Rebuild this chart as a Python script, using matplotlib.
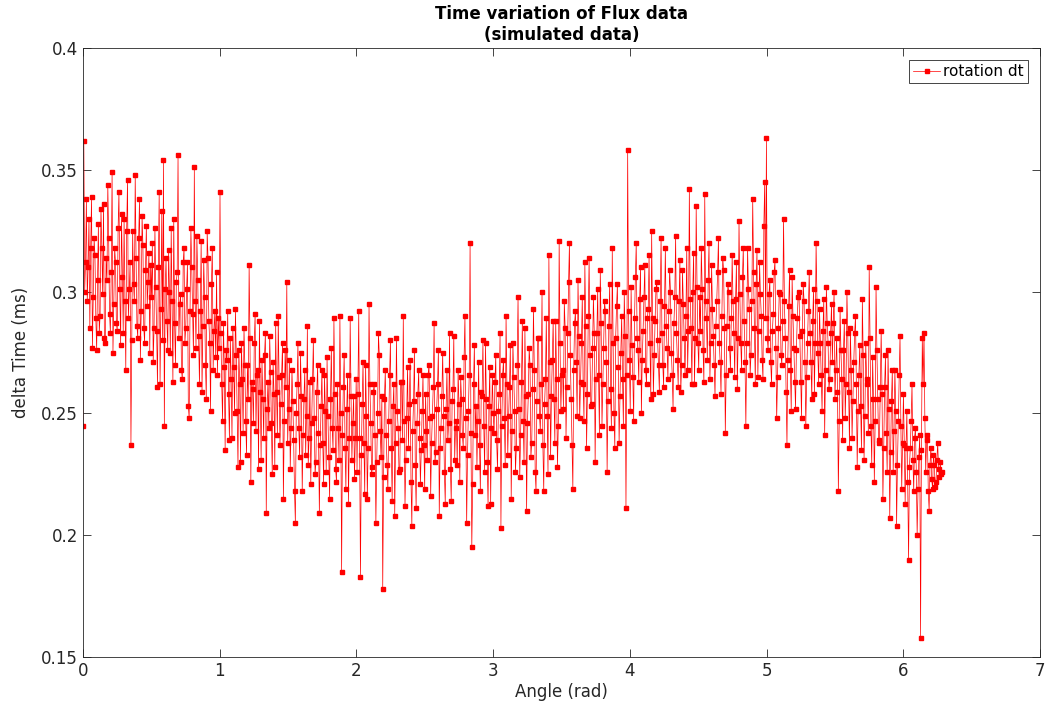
import numpy as np
import matplotlib
matplotlib.use('Agg')
import matplotlib.pyplot as plt

# delta time (ms * 1000) read segment by segment, 0 -> 2*pi
dt_0_05 = [245, 362, 300, 312, 338, 296, 310, 330, 285, 318, 339, 277, 298, 322, 315, 289, 276, 305, 328, 283,
           290, 334, 318, 299, 336, 281, 279, 314, 305, 344, 322, 291, 283, 308, 349, 275, 295, 318, 312, 287,
           284, 326, 341, 301, 278, 332, 306, 283, 330, 296, 268, 325, 346, 289, 301, 312, 237, 280, 325, 303,
           296, 348, 314, 286, 281, 322, 338, 272, 292, 331, 319, 285, 279, 309, 327, 294, 304, 316, 275, 311]
dt_05_10 = [298, 320, 271, 285, 326, 302, 284, 261, 310, 341, 262, 293, 333, 280, 354, 245, 301, 314, 288, 276,
            317, 300, 275, 326, 296, 263, 330, 287, 270, 304, 308, 356, 281, 295, 299, 268, 264, 312, 318, 279,
            285, 301, 312, 253, 248, 292, 326, 310, 291, 274, 351, 296, 277, 323, 305, 282, 262, 292, 321, 259,
            286, 313, 298, 270, 256, 325, 314, 288, 279, 251, 303, 318, 268, 284, 292, 273, 308, 266, 289, 277]
dt_10_15 = [341, 283, 262, 247, 287, 269, 235, 276, 272, 292, 258, 239, 281, 264, 240, 285, 269, 250, 293, 274,
            251, 228, 276, 262, 230, 279, 264, 242, 285, 270, 247, 233, 270, 256, 311, 281, 222, 263, 260, 246,
            279, 291, 243, 266, 268, 227, 288, 259, 231, 272, 256, 240, 274, 283, 209, 252, 263, 244, 282, 267,
            246, 225, 271, 258, 228, 287, 259, 241, 290, 265, 237, 254, 266, 279, 215, 247, 276, 261, 304, 238]
dt_15_20 = [252, 272, 227, 244, 268, 255, 239, 218, 205, 250, 262, 279, 244, 232, 275, 257, 218, 241, 256, 268,
            233, 249, 286, 229, 240, 263, 221, 246, 264, 280, 248, 225, 230, 259, 270, 242, 209, 237, 253, 268,
            238, 221, 266, 251, 226, 273, 249, 232, 215, 256, 277, 244, 235, 289, 258, 227, 222, 262, 244, 231,
            290, 250, 185, 241, 261, 274, 236, 219, 252, 266, 213, 240, 289, 257, 231, 246, 257, 223, 240, 264]
dt_20_25 = [226, 258, 292, 240, 183, 233, 254, 271, 238, 217, 270, 249, 215, 236, 295, 262, 246, 225, 228, 259,
            262, 241, 205, 230, 250, 283, 274, 243, 232, 257, 178, 224, 256, 268, 241, 229, 219, 247, 266, 280,
            236, 214, 253, 262, 208, 238, 281, 251, 244, 226, 227, 263, 263, 239, 290, 247, 212, 231, 248, 269,
            236, 254, 272, 222, 204, 243, 255, 276, 229, 211, 246, 258, 268, 240, 221, 235, 251, 266, 237, 219]
dt_25_30 = [258, 243, 231, 266, 270, 248, 216, 238, 249, 261, 287, 230, 234, 252, 262, 276, 208, 236, 244, 257,
            275, 249, 226, 213, 252, 268, 239, 246, 283, 227, 214, 255, 260, 282, 231, 244, 247, 229, 268, 254,
            222, 265, 256, 241, 236, 273, 290, 248, 205, 233, 251, 266, 320, 242, 195, 221, 262, 278, 241, 253,
            228, 247, 271, 237, 218, 259, 257, 280, 245, 226, 279, 256, 230, 212, 253, 269, 213, 244, 266, 250]
dt_30_35 = [242, 263, 274, 239, 227, 251, 258, 283, 203, 245, 266, 272, 248, 229, 290, 262, 233, 249, 261, 278,
            215, 243, 279, 265, 251, 226, 236, 270, 298, 252, 224, 241, 263, 288, 247, 230, 285, 257, 210, 246,
            258, 277, 270, 232, 238, 260, 293, 268, 226, 218, 255, 281, 281, 249, 243, 262, 300, 237, 218, 254,
            264, 289, 249, 225, 315, 271, 232, 257, 272, 288, 256, 238, 288, 264, 228, 245, 321, 279, 251, 266]
dt_35_40 = [268, 252, 296, 285, 240, 261, 283, 304, 320, 274, 256, 237, 219, 268, 287, 292, 271, 249, 305, 282,
            248, 263, 279, 298, 262, 247, 312, 286, 236, 258, 290, 314, 274, 253, 254, 277, 298, 283, 230, 264,
            283, 301, 266, 241, 309, 287, 245, 262, 277, 296, 292, 271, 226, 255, 286, 303, 260, 244, 318, 279,
            250, 236, 281, 294, 303, 269, 238, 257, 275, 290, 264, 245, 300, 282, 211, 266, 358, 292, 272, 251]
dt_40_45 = [302, 278, 265, 247, 289, 306, 320, 281, 276, 263, 297, 310, 250, 272, 284, 298, 311, 268, 262, 289,
            293, 315, 279, 256, 325, 289, 258, 274, 288, 301, 304, 280, 270, 259, 296, 322, 283, 270, 261, 294,
            318, 286, 277, 264, 292, 309, 300, 275, 266, 252, 287, 298, 323, 283, 272, 261, 296, 313, 259, 270,
            309, 295, 281, 266, 290, 318, 268, 284, 342, 297, 285, 262, 300, 316, 262, 281, 335, 302, 279, 268]
dt_45_50 = [298, 284, 318, 301, 276, 263, 340, 296, 289, 272, 305, 320, 264, 279, 311, 293, 282, 270, 257, 286,
            296, 308, 322, 279, 271, 258, 290, 314, 309, 285, 242, 266, 286, 303, 300, 277, 268, 289, 315, 296,
            283, 265, 297, 312, 260, 281, 329, 299, 279, 268, 306, 318, 288, 271, 245, 279, 318, 301, 293, 266,
            274, 296, 338, 308, 285, 262, 303, 317, 265, 284, 312, 299, 290, 272, 264, 327, 345, 289, 363, 281]
dt_50_55 = [276, 299, 305, 271, 262, 284, 291, 308, 313, 277, 248, 265, 285, 300, 299, 274, 270, 288, 330, 296,
            281, 259, 237, 272, 294, 309, 268, 251, 306, 290, 277, 263, 252, 276, 289, 298, 300, 282, 263, 248,
            284, 303, 296, 271, 245, 265, 279, 292, 308, 283, 271, 256, 288, 301, 258, 279, 320, 296, 275, 262,
            293, 279, 266, 251, 284, 297, 241, 268, 302, 287, 279, 260, 264, 283, 295, 271, 287, 300, 256, 268]
dt_55_60 = [281, 259, 218, 247, 293, 276, 264, 239, 276, 288, 248, 262, 300, 283, 259, 236, 285, 268, 240, 255,
            271, 283, 290, 262, 228, 251, 266, 278, 253, 235, 297, 274, 231, 249, 279, 264, 262, 242, 310, 281,
            245, 229, 273, 256, 222, 247, 302, 276, 256, 238, 239, 261, 284, 258, 215, 236, 261, 274, 242, 226,
            276, 252, 207, 234, 255, 268, 226, 243, 268, 251, 204, 229, 247, 266, 282, 245, 219, 238, 258, 237]
dt_60_end = [213, 236, 251, 222, 190, 228, 236, 247, 262, 231, 218, 240, 244, 226, 200, 219, 232, 241, 158, 235,
             281, 262, 283, 248, 226, 239, 241, 218, 210, 229, 236, 223, 219, 233, 229, 220, 222, 231, 238, 227,
             224, 230, 225, 226]

dt = np.array(dt_0_05 + dt_05_10 + dt_10_15 + dt_15_20 + dt_20_25 + dt_25_30 + dt_30_35
              + dt_35_40 + dt_40_45 + dt_45_50 + dt_50_55 + dt_55_60 + dt_60_end) / 1000.0
angle = np.linspace(0, 2 * np.pi, len(dt))

plt.rcParams['font.family'] = ['DejaVu Sans']
fig = plt.figure(figsize=(10.45, 7.08), dpi=100)
ax = fig.add_axes([0.0794, 0.072, 0.9158, 0.860])

ax.plot(angle, dt, '-s', color='#ff0000', lw=0.5, ms=2.2, mec='#ff0000', label='rotation dt')

ax.set_xlim(0, 7)
ax.set_ylim(0.15, 0.4)
ax.set_xticks(range(0, 8))
ax.set_yticks([0.15, 0.2, 0.25, 0.3, 0.35, 0.4])
ax.set_yticklabels(['0.15', '0.2', '0.25', '0.3', '0.35', '0.4'])
ax.tick_params(direction='in', top=True, right=True, labelsize=12, colors='#262626', length=6, width=0.6)
for s in ax.spines.values():
    s.set_color('#262626')
    s.set_linewidth(0.6)

ax.set_xlabel('Angle (rad)', fontsize=12, color='#262626', labelpad=2)
ax.set_ylabel('delta Time (ms)', fontsize=12, color='#262626', labelpad=8)
ax.set_title('Time variation of Flux data\n(simulated data)', fontsize=12, fontweight='bold', pad=6)

leg = ax.legend(loc='upper right', fontsize=11, fancybox=False, framealpha=1,
                edgecolor='#262626', handlelength=1.8, handletextpad=0.2,
                borderpad=0.25, borderaxespad=0.8)
leg.get_frame().set_linewidth(0.6)

fig.savefig('out.png', dpi=100)
